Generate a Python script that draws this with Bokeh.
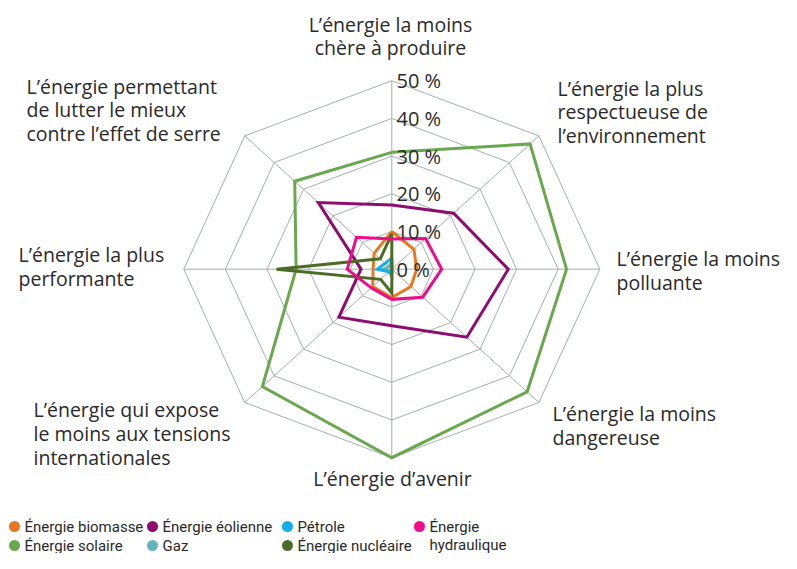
import math
from bokeh.plotting import figure
from bokeh.models import Range1d, ColumnDataSource
from bokeh.core.properties import value
from bokeh.embed import file_html
from bokeh.resources import INLINE

categories = [
    "L\u2019énergie la moins\nchère à produire",
    "L\u2019énergie la plus\nrespectueuse de\nl\u2019environnement",
    "L\u2019énergie la moins\npolluante",
    "L\u2019énergie la moins\ndangereuse",
    "L\u2019énergie d\u2019avenir",
    "L\u2019énergie qui expose\nle moins aux tensions\ninternationales",
    "L\u2019énergie la plus\nperformante",
    "L\u2019énergie permettant\nde lutter le mieux\ncontre l\u2019effet de serre",
]
ticks = [0, 10, 20, 30, 40, 50]
tick_labels = ["0 %", "10 %", "20 %", "30 %", "40 %", "50 %"]

series_names = ["Énergie biomasse", "Énergie solaire", "Énergie éolienne", "Gaz",
                "Pétrole", "Énergie nucléaire", "Énergie hydraulique"]
biomasse = [10, 7.5, 6, 6.5, 7.5, 6.5, 4.5, 6]
solaire = [31, 47, 42, 46, 50, 44, 23, 33]
eolienne = [17, 21, 28, 25.5, 15, 18, 7.4, 25]
gaz = [2, 0, 0, 0, 0.6, 0.5, 2, 1]
petrole = [3, 0, 0, 0, 1.7, 1, 3.5, 2.2]
nucleaire = [9.4, 0, 0, 0, 6.3, 3.8, 27.7, 3.9]
hydraulique = [8, 11.5, 12, 10.5, 8, 7, 10.7, 12]
series_values = [biomasse, solaire, eolienne, gaz, petrole, nucleaire, hydraulique]
colors = ["#E87722", "#6AA84F", "#8E0C6F", "#62B5BE", "#14AEEA", "#4C6B26", "#EC0C8C"]

# ---- layout (picture pixels) ----
W, H = 781, 553
CX, CY = 391.3, 268.7          # centre in picture pixels
SX, SY = 208 / 50, 188.5 / 50  # pixels per percent

def dx(px):
    return (px - CX) / SX

def dy(py):
    return (CY - py) / SY

p = figure(width=W, height=H, output_backend="svg", toolbar_location=None,
           x_range=Range1d(dx(0), dx(W)), y_range=Range1d(dy(H), dy(0)),
           min_border=0)
p.axis.visible = False
p.grid.visible = False
p.outline_line_color = None
p.background_fill_color = "white"

n = len(categories)
angles = [math.pi / 2 - k * 2 * math.pi / n for k in range(n)]

def poly(vals):
    xs = [v * math.cos(a) for v, a in zip(vals, angles)]
    ys = [v * math.sin(a) for v, a in zip(vals, angles)]
    return xs + xs[:1], ys + ys[:1]

grid_col = "#A2B0AA"
for t in ticks[1:]:
    xs, ys = poly([t] * n)
    p.line(xs, ys, line_color=grid_col, line_width=1)
rmax = ticks[-1]
for a in angles:
    p.line([0, rmax * math.cos(a)], [0, rmax * math.sin(a)], line_color=grid_col, line_width=1)

for vals, c in zip(series_values, colors):
    xs, ys = poly(vals)
    p.line(xs, ys, line_color=c, line_width=3, line_join="miter")

font = value("Open Sans")
txt_col = "#2a2a2a"

# tick labels
p.text(x=[dx(396)] * len(ticks), y=ticks, text=tick_labels, text_font=font,
       text_font_size="20px", text_color=txt_col, text_align="left", text_baseline="middle")

# category labels
lab_x = [390, 557, 616, 552, 392, 33, 18, 26]
lab_y = [35.5, 111.5, 270, 425, 478, 433, 266, 109.5]
lab_align = ["center", "left", "left", "left", "center", "left", "left", "left"]
src = ColumnDataSource(dict(x=[dx(v) for v in lab_x], y=[dy(v) for v in lab_y],
                            text=categories, align=lab_align))
p.text(x="x", y="y", text="text", text_align="align", source=src, text_font=font,
       text_font_size="19.5px", text_color=txt_col, text_baseline="middle",
       text_line_height=0.885)

# legend
leg_cx = [14, 14, 152, 152, 287, 287, 419]
leg_cy = [526, 545, 526, 545, 526, 545, 526]
leg_text = ["Énergie biomasse", "Énergie solaire", "Énergie éolienne", "Gaz",
            "Pétrole", "Énergie nucléaire", "Énergie\nhydraulique"]
p.scatter(x=[dx(v) for v in leg_cx], y=[dy(v) for v in leg_cy], size=11,
          fill_color=colors, line_color=None)
leg_font = value("Roboto")
p.text(x=[dx(v + 10) for v in leg_cx[:6]], y=[dy(v) for v in leg_cy[:6]], text=leg_text[:6],
       text_font=leg_font, text_font_size="15px", text_color=txt_col,
       text_align="left", text_baseline="middle")
p.text(x=[dx(leg_cx[6] + 10)], y=[dy((leg_cy[6] + leg_cy[5]) / 2)], text=[leg_text[6]],
       text_font=leg_font, text_font_size="15px", text_color=txt_col,
       text_align="left", text_baseline="middle", text_line_height=0.97)

open("out.html", "w").write(file_html(p, INLINE))
